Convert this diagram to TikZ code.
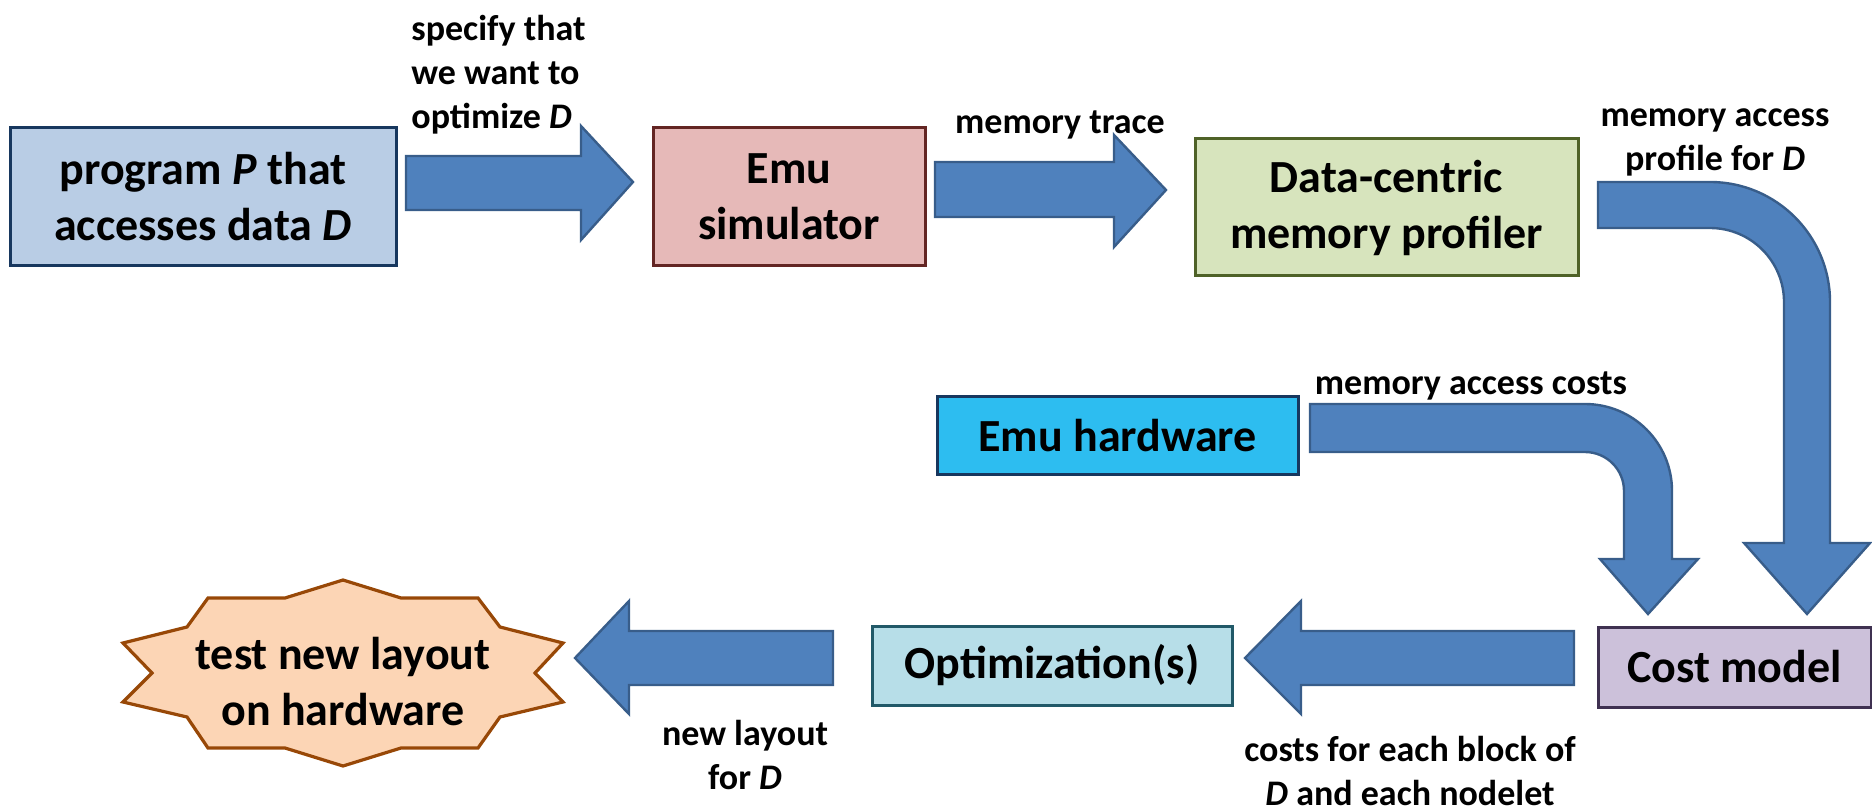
\documentclass[tikz,border=0pt]{standalone}
\usepackage{fontspec}
\setmainfont{Carlito}
\definecolor{pfill}{HTML}{B9CDE5}
\definecolor{pdraw}{HTML}{17375E}
\definecolor{simfill}{HTML}{E6B9B8}
\definecolor{simdraw}{HTML}{632523}
\definecolor{proffill}{HTML}{D7E4BD}
\definecolor{profdraw}{HTML}{4F6228}
\definecolor{hwfill}{HTML}{2DBDF0}
\definecolor{hwdraw}{HTML}{17375E}
\definecolor{costfill}{HTML}{CCC1DA}
\definecolor{costdraw}{HTML}{3F3151}
\definecolor{optfill}{HTML}{B7DEE8}
\definecolor{optdraw}{HTML}{215968}
\definecolor{starfill}{HTML}{FCD5B5}
\definecolor{stardraw}{HTML}{984807}
\definecolor{arrfill}{HTML}{4F81BD}
\definecolor{arrdraw}{HTML}{385D8A}
\tikzset{
  box/.style={draw, line width=1.5pt, inner sep=0pt, align=center,
    font=\bfseries\fontsize{23}{28}\selectfont},
  lbl/.style={inner sep=0pt, align=center,
    font=\bfseries\fontsize{18}{22}\selectfont},
  barrow/.style={fill=arrfill, draw=arrdraw, line width=1.2pt, line join=miter},
}
\begin{document}
\begin{tikzpicture}[x=0.5pt,y=-0.5pt]
\path[use as bounding box] (0,0) rectangle (1872,806);

% boxes
\node[box, fill=pfill, draw=pdraw, minimum width=193pt, minimum height=69pt] (P) at (203,197)
  {program \textit{P} that\\accesses data \textit{D}};
\node[box, fill=simfill, draw=simdraw, minimum width=136pt, minimum height=69pt] (sim) at (789,197)
  {Emu\\simulator};
\node[box, fill=proffill, draw=profdraw, minimum width=191.5pt, minimum height=68.5pt] (prof) at (1386.5,207.5)
  {Data-centric\\memory profiler};
\node[box, fill=hwfill, draw=hwdraw, minimum width=180.5pt, minimum height=39pt] (hw) at (1117.5,436)
  {Emu hardware};
\node[box, fill=costfill, draw=costdraw, minimum width=136.5pt, minimum height=40pt] (cost) at (1734.5,667)
  {Cost model};
\node[box, fill=optfill, draw=optdraw, minimum width=180pt, minimum height=39.5pt] (opt) at (1052,665.5)
  {Optimization(s)};

% star
\draw[fill=starfill, draw=stardraw, line width=1.6pt, line join=miter]
  (343,580) -- (401,598) -- (478,598) -- (500,627) -- (563,643) -- (535,673)
  -- (563,702) -- (500,717) -- (478,748) -- (401,748) -- (343,766) -- (285,748)
  -- (208,748) -- (187,717) -- (123,702) -- (152,673) -- (123,643) -- (187,627)
  -- (208,598) -- (285,598) -- cycle;
\node[box, draw=none] (star) at (343,682) {test new layout\\on hardware};

% straight block arrows
\draw[barrow] (406,156) -- (581,156) -- (581,126) -- (633,182) -- (581,240) -- (581,210) -- (406,210) -- cycle;
\draw[barrow] (935,162) -- (1114,162) -- (1114,135) -- (1166,190) -- (1114,247) -- (1114,217) -- (935,217) -- cycle;
\draw[barrow] (1574,631) -- (1301,631) -- (1301,601) -- (1245,658) -- (1301,714) -- (1301,685) -- (1574,685) -- cycle;
\draw[barrow] (833,631) -- (629,631) -- (629,601) -- (575,658) -- (629,714) -- (629,685) -- (833,685) -- cycle;

% bent block arrows
\draw[barrow] (1598,182) -- (1710,182) arc[start angle=90, end angle=0, radius=60pt]
  -- (1830,543) -- (1870,543) -- (1807,614) -- (1744,543) -- (1784,543) -- (1784,302)
  arc[start angle=0, end angle=90, radius=37pt] -- (1598,228) -- cycle;
\draw[barrow] (1310,404) -- (1585,404) arc[start angle=90, end angle=0, radius=43.5pt]
  -- (1672,559) -- (1698,559) -- (1648,614) -- (1600,559) -- (1624,559) -- (1624,491)
  arc[start angle=0, end angle=90, radius=19.5pt] -- (1310,452) -- cycle;

% labels
\node[lbl, align=left, anchor=west] (l1) at (411,75) {specify that\\we want to\\optimize \textit{D}};
\node[lbl] (l2) at (1060,125) {memory trace};
\node[lbl] (l3) at (1715,142) {memory access\\profile for \textit{D}};
\node[lbl] (l4) at (1471,386) {memory access costs};
\node[lbl] (l5) at (1410,771) {costs for each block of\\\textit{D} and each nodelet};
\node[lbl] (l6) at (745,755) {new layout\\for \textit{D}};
\end{tikzpicture}
\end{document}
